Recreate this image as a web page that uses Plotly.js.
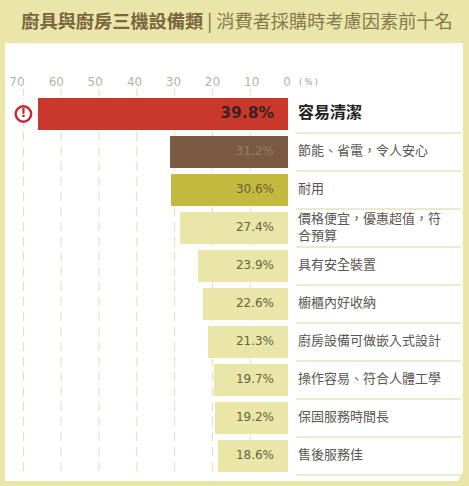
<!DOCTYPE html>
<html><head><meta charset="utf-8">
<script src="https://cdn.plot.ly/plotly-3.0.1.min.js"></script>
<style>html,body{margin:0;padding:0;background:#e9e6a8}</style></head>
<body><div id="chart" style="width:469px;height:486px"></div>
<script>
const categories = ["容易清潔","節能、省電\uFF0C令人安心","耐用","價格便宜\uFF0C優惠超值\uFF0C符<br>合預算","具有安全裝置","櫥櫃內好收納","廚房設備可做嵌入式設計","操作容易、符合人體工學","保固服務時間長","售後服務佳"];
const valueLabels = ["39.8%","31.2%","30.6%","27.4%","23.9%","22.6%","21.3%","19.7%","19.2%","18.6%"];
// drawn bar lengths as read against the gridlines (the first bar is drawn longer than its label)
const barLengths = [66.1,31.2,31.0,28.6,23.8,22.5,21.2,19.6,19.3,18.5];
const barColors = ["#c9382b","#7a5a42","#c4b93f","#e9e6a8","#e9e6a8","#e9e6a8","#e9e6a8","#e9e6a8","#e9e6a8","#e9e6a8"];
const labelColors = ["#3a2320","#8f7f6c","#66603a","#66623f","#66623f","#66623f","#66623f","#66623f","#66623f","#66623f"];
const gridValues = [70,60,50,40,30,20,10];
const tickLabels = ["70","60","50","40","30","20","10","0"];
const tickPlaces = [71.7,61.3,51,40.6,30.3,20,9.6,0.26];

const FONT = '"DejaVu Sans", sans-serif';
const CJK = '"Noto Sans CJK TC", sans-serif';
const W = 469, H = 486, L = 5, R = 6, T = 89, B = 5;
const pxPerUnit = 3.78, zeroPx = 288, rowPitch = 38, firstRowPx = 114;
const xOf = px => (zeroPx - px) / pxPerUnit;
const yOf = px => (px - firstRowPx) / rowPitch;
const plotH = H - T - B;

const shapes = [];
shapes.push({type:'rect',xref:'paper',yref:'paper',x0:0,x1:1,y0:0,y1:(H-B-43)/plotH,fillcolor:'#ffffff',line:{width:0},layer:'below'});
gridValues.forEach(v=>shapes.push({type:'line',xref:'x',yref:'y',x0:v,x1:v,y0:yOf(87),y1:yOf(472),layer:'below',
  line:{color:'#e2dcbb',width:1,dash:'9px,6px'}}));
categories.forEach((c,i)=>shapes.push({type:'line',xref:'x',yref:'y',x0:xOf(296),x1:xOf(461),y0:i+0.5,y1:i+0.5,layer:'below',
  line:{color:'#d9d4a2',width:1}}));
// folded corner of the white panel
shapes.push({type:'path',xref:'paper',yref:'paper',path:`M ${(458-L)/(W-L-R)} 0 L 1 0 L 1 ${(481-472)/plotH} Z`,fillcolor:'#e9e6a8',line:{width:0},layer:'below'});

const bars = {type:'bar',orientation:'h',y:categories,x:barLengths,marker:{color:barColors,line:{width:0}},width:32/38,hoverinfo:'skip',showlegend:false};
const values = {type:'scatter',mode:'text',y:categories,x:categories.map(()=>xOf(274)),text:valueLabels,textposition:'middle left',cliponaxis:false,hoverinfo:'skip',showlegend:false,
  textfont:{family:FONT,size:valueLabels.map((_,i)=>i===0?15.5:12),color:labelColors,weight:valueLabels.map((_,i)=>i===0?700:400)}};
const names = {type:'scatter',mode:'text',y:categories,x:categories.map(()=>xOf(298)),text:categories.map((c,i)=>i===0?'<b>'+c+'</b>':c),textposition:'middle right',cliponaxis:false,hoverinfo:'skip',showlegend:false,
  textfont:{family:CJK,size:categories.map((_,i)=>i===0?16:13),color:categories.map((_,i)=>i===0?'#222222':'#5a5750')}};
const icon = {type:'scatter',mode:'markers+text',x:[70],y:[categories[0]],text:['<b>!</b>'],textposition:'middle center',cliponaxis:false,hoverinfo:'skip',showlegend:false,
  marker:{size:15.5,color:'#ffffff',line:{color:'#c8283a',width:2.5}},textfont:{family:FONT,size:13,color:'#c8283a'}};

const layout = {
  width:W,height:H,paper_bgcolor:'#e9e6a8',plot_bgcolor:'rgba(0,0,0,0)',
  margin:{l:L,r:R,t:T,b:B,pad:0},
  title:{text:'<b>廚具與廚房三機設備類</b> | <span style="color:#87784f">消費者採購時考慮因素前十名</span>',x:237/W,xanchor:'center',y:1-22/H,yanchor:'middle',yref:'container',
    font:{family:CJK,size:18.2,color:'#7a6540'}},
  bargap:0,
  xaxis:{range:[xOf(L),xOf(W-R)],side:'top',tickmode:'array',tickvals:tickPlaces,ticktext:tickLabels,showgrid:false,zeroline:false,showline:false,ticks:'',
    tickfont:{family:FONT,size:12,color:'#b3b3aa'},fixedrange:true},
  yaxis:{type:'category',range:[yOf(H-B),yOf(T)],showticklabels:false,showgrid:false,zeroline:false,showline:false,ticks:'',fixedrange:true},
  shapes,
  annotations:[{text:'( % )',xref:'x',yref:'paper',x:xOf(297),xanchor:'left',y:1+(T-82)/plotH,yanchor:'middle',showarrow:false,font:{family:FONT,size:8,color:'#9a9a90'}}]
};
Plotly.newPlot('chart',[bars,values,names,icon],layout,{displayModeBar:false,staticPlot:true});
</script></body></html>
